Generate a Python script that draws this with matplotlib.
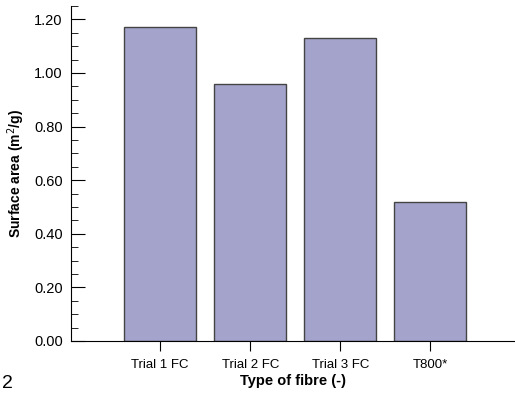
import matplotlib.pyplot as plt
from matplotlib.ticker import MultipleLocator, FormatStrFormatter

plt.rcParams['font.family'] = ['Liberation Sans', 'DejaVu Sans']

# data
fibres = ['Trial 1 FC', 'Trial 2 FC', 'Trial 3 FC', 'T800*']
surface_area = [1.17, 0.96, 1.13, 0.52]

fig = plt.figure(figsize=(5.15, 3.96), dpi=100)
ax = fig.add_axes([71 / 515, 55 / 396, 1 - 71 / 515, 335 / 396])

x = range(len(fibres))
ax.bar(x, surface_area, width=0.8, color='#a3a3cc', edgecolor='#444444', linewidth=1.0)

ax.set_xlim(-0.99, 3.94)
ax.set_ylim(0, 1.25)
ax.set_xticks(list(x))
ax.set_xticklabels(fibres, fontsize=9.5)
ax.yaxis.set_major_locator(MultipleLocator(0.2))
ax.yaxis.set_minor_locator(MultipleLocator(0.05))
ax.yaxis.set_major_formatter(FormatStrFormatter('%.2f'))
ax.tick_params(axis='y', which='major', direction='in', length=10, labelsize=10.5, pad=6)
ax.tick_params(axis='y', which='minor', direction='in', length=5)
ax.tick_params(axis='x', direction='out', length=7, pad=6)

ax.spines['top'].set_visible(False)
ax.spines['right'].set_visible(False)

ax.set_ylabel('Surface area (m$^2$/g)', fontsize=10, fontweight='bold', labelpad=5)
ax.set_xlabel('Type of fibre (-)', fontsize=10.5, fontweight='bold', labelpad=2)

fig.text(2 / 515, 1 - 383 / 396, '2', fontsize=14, va='center', ha='left')

fig.savefig('out.png', dpi=100)
